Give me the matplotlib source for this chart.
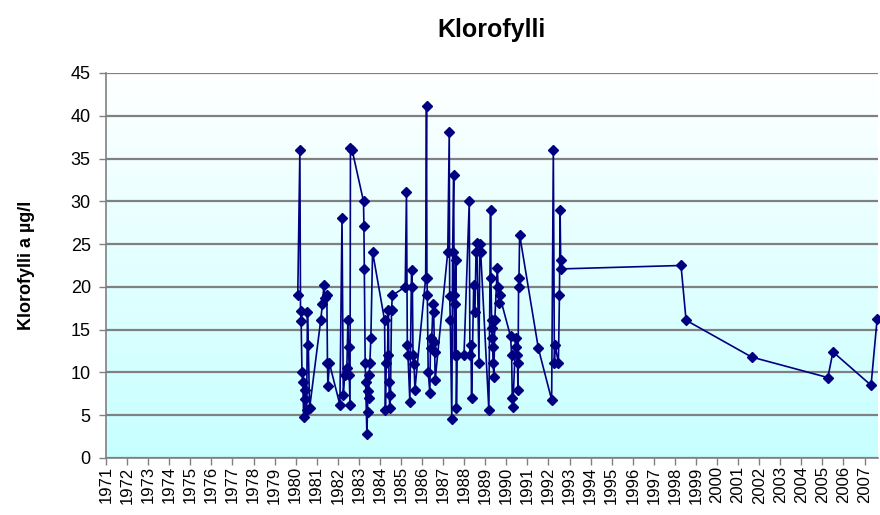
import numpy as np
import matplotlib
matplotlib.use("Agg")
import matplotlib.pyplot as plt

plt.rcParams['font.family'] = ['Liberation Sans', 'DejaVu Sans']

# sample dates (decimal year) and chlorophyll a values (µg/l)
years = [
    1980.10, 1980.20, 1980.23, 1980.26, 1980.30, 1980.34, 1980.38, 1980.42, 1980.46, 1980.52,
    1980.56, 1980.60, 1980.66,
    1981.19, 1981.27, 1981.34, 1981.38, 1981.48, 1981.51, 1981.53, 1981.60,
    1982.10, 1982.20, 1982.26, 1982.33, 1982.43, 1982.48, 1982.51, 1982.54, 1982.58, 1982.60,
    1982.68,
    1983.22, 1983.24, 1983.26, 1983.30, 1983.32, 1983.38, 1983.41, 1983.43, 1983.46, 1983.49,
    1983.52, 1983.57, 1983.65,
    1984.22, 1984.26, 1984.30, 1984.36, 1984.40, 1984.43, 1984.46, 1984.50, 1984.55, 1984.59,
    1985.20, 1985.26, 1985.30, 1985.33, 1985.42, 1985.50, 1985.54, 1985.57, 1985.62, 1985.66,
    1986.17, 1986.21, 1986.23, 1986.25, 1986.29, 1986.37, 1986.40, 1986.44, 1986.52, 1986.55,
    1986.58, 1986.60, 1986.62,
    1987.22, 1987.29, 1987.31, 1987.34, 1987.41, 1987.45, 1987.50, 1987.52, 1987.54, 1987.56,
    1987.61, 1987.63, 1987.66, 1987.99,
    1988.24, 1988.27, 1988.32, 1988.35, 1988.45, 1988.51, 1988.56, 1988.60, 1988.70, 1988.74,
    1988.78,
    1989.17, 1989.25, 1989.27, 1989.30, 1989.32, 1989.33, 1989.35, 1989.37, 1989.41, 1989.45,
    1989.57, 1989.61, 1989.65, 1989.68,
    1990.20, 1990.25, 1990.28, 1990.31, 1990.44, 1990.47, 1990.51, 1990.53, 1990.55, 1990.58,
    1990.60, 1990.63,
    1991.52,
    1992.15, 1992.23, 1992.28, 1992.31, 1992.47, 1992.52, 1992.55, 1992.58, 1992.61,
    1998.29, 1998.53,
    2001.64,
    2005.26, 2005.50,
    2007.31, 2007.60,
]
klorofylli = [
    19.0, 36.0, 17.2, 16.0, 10.0, 8.9, 4.8, 7.9, 6.9, 5.6,
    17.1, 13.2, 5.8,
    16.1, 18.0, 20.2, 18.7, 19.0, 11.1, 8.4, 11.1,
    6.2, 28.1, 7.4, 9.7, 10.5, 16.1, 13.0, 9.7, 6.2, 36.2,
    36.0,
    30.0, 27.1, 22.1, 11.1, 8.9, 2.8, 5.4, 7.8, 7.0, 9.7,
    11.1, 14.0, 24.1,
    16.1, 5.6, 11.1, 12.0, 17.3, 8.9, 5.8, 7.4, 17.3, 19.0,
    20.0, 31.1, 13.2, 12.0, 6.6, 22.0, 20.0, 12.0, 11.0, 8.0,
    21.0, 41.1, 21.0, 19.0, 10.1, 7.6, 14.0, 12.8, 18.0, 17.1,
    13.6, 12.4, 9.1,
    24.1, 38.1, 18.9, 16.1, 4.6, 24.1, 33.1, 19.1, 12.0, 18.0,
    23.1, 5.8, 12.0, 12.0,
    30.0, 12.0, 13.2, 7.0, 20.2, 17.1, 24.1, 25.1, 11.1, 25.0,
    24.1,
    5.6, 29.0, 21.0, 16.1, 15.2, 14.0, 13.0, 11.1, 9.5, 16.1,
    22.2, 20.0, 18.1, 19.0,
    14.2, 12.0, 7.0, 6.0, 14.0, 13.0, 12.0, 11.1, 8.0, 20.0,
    21.0, 26.1,
    12.8,
    6.8, 36.0, 11.1, 13.2, 11.1, 19.0, 29.0, 23.1, 22.1,
    22.5, 16.1,
    11.8,
    9.4, 12.4,
    8.5, 16.3,
]
year_ticks = list(range(1971, 2008))

fig = plt.figure(figsize=(8.8, 5.15), dpi=100)
ax = fig.add_axes([0.1205, 0.1107, 0.877, 0.7476])

# white -> light cyan background like the Excel plot area
grad = np.linspace(0, 1, 256).reshape(-1, 1)
top = np.array([1.0, 1.0, 1.0])
bottom = np.array([0.78, 1.0, 1.0])
img = top + (bottom - top) * grad[:, :, None]
ax.imshow(img, extent=[0, 1, 0, 1], transform=ax.transAxes, aspect='auto', zorder=0)

ax.set_xlim(1971, 2007.63)
ax.set_ylim(0, 45)
ax.set_yticks(range(0, 46, 5))
ax.set_xticks(year_ticks)
ax.set_xticklabels([str(y) for y in year_ticks], rotation=90, fontsize=12)
ax.tick_params(axis='y', labelsize=13, length=5, color='#808080', width=1, pad=6)
ax.tick_params(axis='x', length=5, color='#808080', width=1, pad=1)
ax.grid(axis='y', color='#808080', linewidth=1.6, zorder=1)
ax.set_axisbelow(True)

for side in ['top', 'right']:
    ax.spines[side].set_visible(False)
for side in ['left', 'bottom']:
    ax.spines[side].set_color('#808080')
    ax.spines[side].set_linewidth(1.2)

ax.plot(years, klorofylli, color='#000080', linewidth=1.2, marker='D',
        markersize=5.5, markerfacecolor='#000080', markeredgecolor='#000080',
        zorder=3, clip_on=False)

ax.set_ylabel('Klorofylli a µg/l', fontsize=13, fontweight='bold', labelpad=26)
ax.set_title('Klorofylli', fontsize=18, fontweight='bold', pad=26)

fig.savefig('out.png', dpi=100)
